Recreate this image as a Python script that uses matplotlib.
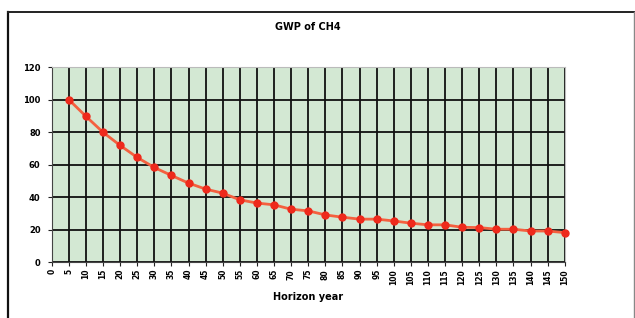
import matplotlib
matplotlib.use("Agg")
import matplotlib.pyplot as plt
from matplotlib.lines import Line2D

# horizon years (categories) and GWP values
years = list(range(0, 155, 5))
gwp_years = list(range(5, 155, 5))
gwp = [100, 89.7, 79.9, 71.8, 64.4, 58.2, 53.3, 48.6, 44.9, 42.4,
       38.3, 36.3, 35.2, 32.5, 31.5, 29.0, 27.6, 26.4, 26.4, 25.3,
       23.9, 22.9, 22.9, 21.4, 21.2, 20.2, 20.2, 19.1, 19.1, 18.1]
y_ticks = [0, 20, 40, 60, 80, 100, 120]

fig = plt.figure(figsize=(6.35, 3.18), dpi=100)
ax = fig.add_axes([0.0814, 0.176, 0.808, 0.613])
ax.set_facecolor("#d3e8d3")

pos = {y: i for i, y in enumerate(years)}
xs = [pos[y] for y in gwp_years]

ax.set_xlim(0, len(years) - 1)
ax.set_ylim(0, 120)
ax.set_xticks(range(len(years)))
ax.set_xticklabels([str(y) for y in years], rotation=90, fontsize=5.5,
                   fontweight="bold")
ax.set_yticks(y_ticks)
ax.set_yticklabels([str(v) for v in y_ticks], fontsize=6, fontweight="bold")
ax.tick_params(axis="y", length=3, width=0.8, color="#222222", pad=5)
ax.tick_params(axis="x", length=3, width=0.8, color="#222222", pad=2)

ax.grid(True, color="#111111", linewidth=1.3)
ax.set_axisbelow(True)

ax.plot(xs, gwp, color="#f4603f", linewidth=2.0, marker="o", markersize=5,
        markerfacecolor="#ee2a1c", markeredgecolor="#ee2a1c", zorder=3,
        clip_on=False)

for side in ["top", "right"]:
    ax.spines[side].set_color("#bbbbbb")
for side in ["left", "bottom"]:
    ax.spines[side].set_color("#444444")

ax.set_title("GWP of CH4", fontsize=7, fontweight="bold", pad=27)
ax.set_xlabel("Horizon year", fontsize=7, fontweight="bold", labelpad=5)

# outer chart frame
fig.add_artist(Line2D([8 / 635, 8 / 635], [0, 1 - 12 / 318],
                      transform=fig.transFigure, color="#111111", linewidth=1.6))
fig.add_artist(Line2D([8 / 635, 634 / 635], [1 - 12 / 318, 1 - 12 / 318],
                      transform=fig.transFigure, color="#222222", linewidth=1.4))
fig.add_artist(Line2D([634 / 635, 634 / 635], [0, 1 - 12 / 318],
                      transform=fig.transFigure, color="#888888", linewidth=1.0))

fig.savefig("out.png", dpi=100)
